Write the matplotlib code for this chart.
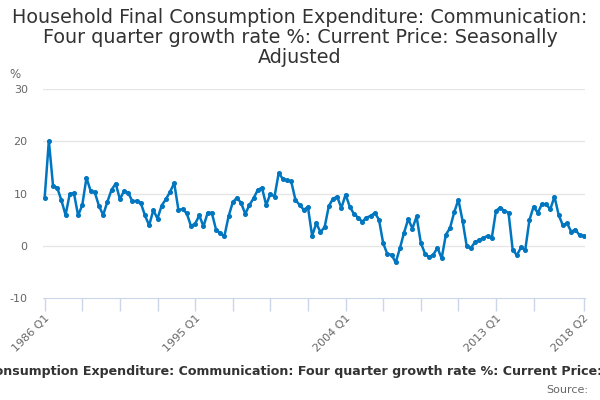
import matplotlib
matplotlib.use("Agg")
import matplotlib.pyplot as plt

# quarterly four quarter growth rate, 1986 Q1 .. 2018 Q2
growth = [
    9.2, 20.1, 11.5, 11.1, 8.7, 5.9, 9.9, 10.1, 5.8, 7.8,
    13.0, 10.5, 10.2, 7.6, 5.9, 8.4, 10.7, 11.9, 8.9, 10.5,
    10.1, 8.5, 8.6, 8.2, 5.8, 3.9, 6.8, 5.2, 7.7, 8.9,
    10.3, 12.0, 6.9, 7.0, 6.2, 3.8, 4.2, 5.8, 3.7, 6.3,
    6.3, 3.1, 2.4, 1.8, 5.6, 8.3, 9.2, 8.2, 6.1, 7.8,
    9.1, 10.7, 11.1, 7.8, 9.9, 9.4, 13.9, 12.8, 12.5, 12.3,
    8.8, 7.8, 6.9, 7.4, 1.9, 4.3, 2.6, 3.6, 7.6, 9.0,
    9.4, 7.2, 9.8, 7.5, 6.1, 5.4, 4.6, 5.4, 5.7, 6.3,
    5.0, 0.5, -1.6, -1.7, -3.2, -0.5, 2.5, 5.1, 3.3, 5.6,
    0.6, -1.5, -2.2, -1.7, -0.4, -2.4, 2.1, 3.4, 6.4, 8.8,
    4.8, -0.1, -0.4, 0.7, 1.1, 1.5, 1.9, 1.5, 6.7, 7.3,
    6.7, 6.3, -0.8, -1.8, -0.3, -0.8, 4.9, 7.5, 6.3, 8.0,
    7.9, 7.0, 9.4, 5.9, 3.9, 4.3, 2.7, 3.1, 2.0, 1.9,
]
quarters = [f"{1986 + i // 4} Q{i % 4 + 1}" for i in range(len(growth))]
labelled = ["1986 Q1", "1995 Q1", "2004 Q1", "2013 Q1", "2018 Q2"]
y_ticks = [-10, 0, 10, 20, 30]

title = ("Household Final Consumption Expenditure: Communication: "
         "Four quarter growth rate %: Current Price: Seasonally Adjusted")

fig = plt.figure(figsize=(6, 4), dpi=100)
ax = fig.add_axes([43 / 600, 1 - 298 / 400, 542 / 600, 209 / 400])

x = list(range(len(quarters)))
ax.plot(x, growth, color="#0076c0", lw=1.8, marker="o", ms=2.6, zorder=3)

ax.set_xlim(-0.4, len(quarters) - 0.7)
ax.set_ylim(-10, 30)
ax.set_yticks(y_ticks)
ax.set_yticklabels([str(v) for v in y_ticks], color="#666666", fontsize=8)
ax.tick_params(axis="y", length=0, pad=11)

tick_pos = list(range(0, len(quarters) - 10, 9)) + [len(quarters) - 1]
ax.set_xticks(tick_pos)
ax.set_xticklabels([quarters[p] if quarters[p] in labelled else "" for p in tick_pos],
                   rotation=45, ha="right", rotation_mode="anchor",
                   color="#666666", fontsize=8)
ax.tick_params(axis="x", length=9, color="#ccd6eb", width=1, pad=2)

for v in y_ticks[1:]:
    ax.axhline(v, color="#e6e6e6", lw=1, zorder=1)
for s in ["top", "right", "left"]:
    ax.spines[s].set_visible(False)
ax.spines["bottom"].set_color("#ccd6eb")

fig.text(0.016, 1 - 75 / 400, "%", color="#666666", fontsize=8.5, va="center")
fig.text(0.5, 0.98, "Household Final Consumption Expenditure: Communication:\n"
         "Four quarter growth rate %: Current Price: Seasonally\nAdjusted",
         ha="center", va="top", fontsize=13.8, color="#333333", linespacing=1.07)
fig.text(0.515, 1 - 372 / 400, title, ha="center", va="center",
         fontsize=9.1, fontweight="bold", color="#333333")
fig.text(588 / 600, 1 - 390 / 400, "Source:", ha="right", va="center",
         fontsize=8, color="#666666")

fig.savefig("out.png", dpi=100)
